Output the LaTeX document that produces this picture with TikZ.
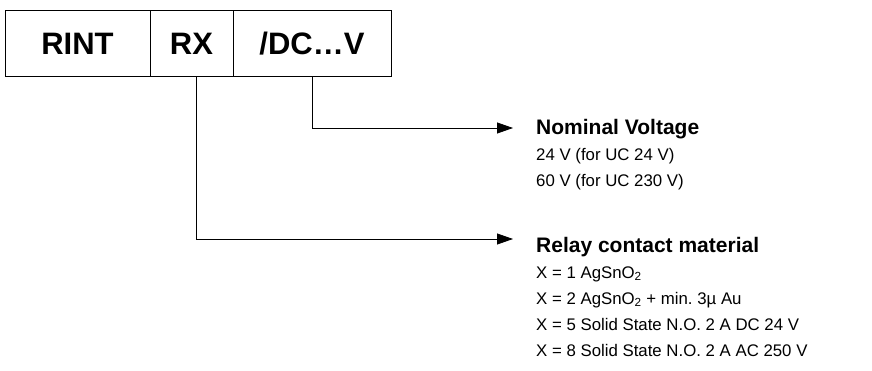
\documentclass[tikz,border=0pt]{standalone}
\usepackage{fontspec}
\setmainfont{Liberation Sans}
\usetikzlibrary{arrows.meta}
\frenchspacing

\tikzset{
    cell/.style={draw, line width=1pt, minimum height=66pt, inner sep=0pt, outer sep=0pt,
        font=\fontsize{31}{31}\selectfont\bfseries},
    conn/.style={line width=0.8pt, -{Triangle[length=16pt, width=11pt]}},
    head/.style={anchor=base west, inner sep=0pt, font=\fontsize{21}{24}\selectfont\bfseries},
    body/.style={anchor=base west, inner sep=0pt, font=\fontsize{16.8}{20}\selectfont}
}

\begin{document}
\begin{tikzpicture}[x=1pt, y=-1pt]
    % Rahmen des Bildes
    \useasboundingbox (0, 0) rectangle (872, 371);

    % 1. Typenschlüssel
    \node[cell, minimum width=145pt, anchor=north west] (rint) at (5, 11) {RINT};
    \node[cell, minimum width=83pt, anchor=west] (rx) at (rint.east) {RX};
    \node[cell, minimum width=158pt, anchor=west] (dc) at (rx.east) {/DC…V};

    % 2. Nennspannung
    \node[head] (nomv) at (536, 135) {Nominal Voltage};
    \node[body] (nomva) at (536, 161) {24 V (for UC 24 V)};
    \node[body] (nomvb) at (536, 187) {60 V (for UC 230 V)};

    % 3. Kontaktmaterial
    \node[head] (relay) at (536, 252) {Relay contact material};
    \node[body] (relaya) at (536, 278) {X = 1 AgSnO\textsubscript{2}};
    \node[body] (relayb) at (536, 304) {X = 2 AgSnO\textsubscript{2} + min. 3µ Au};
    \node[body] (relayc) at (536, 330) {X = 5 Solid State N.O. 2 A DC 24 V};
    \node[body] (relayd) at (536, 356) {X = 8 Solid State N.O. 2 A AC 250 V};

    % 4. Verbindungslinien
    \coordinate (nomvin) at (513, 128);
    \coordinate (relayin) at (513, 239);
    \draw[conn] (dc.south) |- (nomvin);
    \draw[conn] ([xshift=5pt]rx.south) |- (relayin);

\end{tikzpicture}
\end{document}
